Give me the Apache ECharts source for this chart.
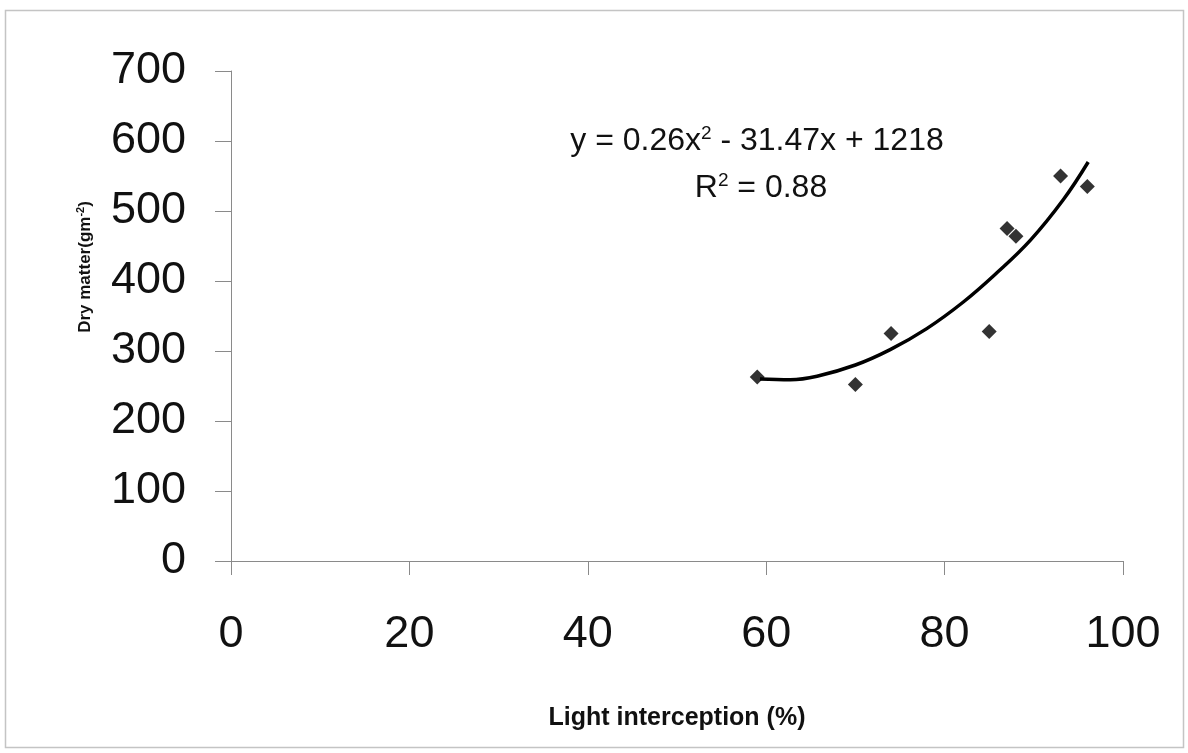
<!DOCTYPE html>
<html>
<head>
<meta charset="utf-8">
<script src="https://cdn.jsdelivr.net/npm/echarts@6/dist/echarts.min.js"></script>
<style>
  html, body { margin: 0; padding: 0; background: #fff; }
  #main { width: 1188px; height: 753px; }
</style>
</head>
<body>
<div id="main"></div>
<script>
var chartDom = document.getElementById('main');
var myChart = echarts.init(chartDom);
var option;

// observed points (light interception %, dry matter g m-2)
const lightX = [59, 70, 74, 85, 87, 88, 93, 96];
const dryY = [263, 252, 325, 328, 475, 464, 550, 535];

// polynomial trendline as drawn in the figure
const trendX = [59.3, 62.7, 65.7, 70, 73.9, 78, 82.1, 85.8, 89.6, 93.3, 96.1];
const trendY = [260, 259, 264, 280, 302, 332, 370, 411, 458, 516, 570];

const yTicks = [0, 100, 200, 300, 400, 500, 600, 700];
const xTicks = [0, 20, 40, 60, 80, 100];

const fontFamily = '"Liberation Sans", Arial, sans-serif';

option = {
  backgroundColor: '#fff',
  animation: false,
  grid: {
    left: 231,
    right: 65,
    top: 71,
    bottom: 192
  },
  xAxis: {
    type: 'value',
    min: xTicks[0],
    max: xTicks[xTicks.length - 1],
    interval: 20,
    name: 'Light interception (%)',
    nameLocation: 'middle',
    nameGap: 145,
    nameTextStyle: {
      fontFamily: fontFamily,
      fontWeight: 'bold',
      fontSize: 25,
      color: '#111'
    },
    axisLine: { lineStyle: { color: '#8a8a8a', width: 1 } },
    axisTick: { show: true, length: 14, lineStyle: { color: '#8a8a8a' } },
    axisLabel: {
      margin: 51,
      fontFamily: fontFamily,
      fontSize: 45,
      color: '#111'
    },
    splitLine: { show: false }
  },
  yAxis: {
    type: 'value',
    min: yTicks[0],
    max: yTicks[yTicks.length - 1],
    interval: 100,
    name: '{b|Dry matter(gm}{s|-2}{b|)}',
    nameLocation: 'middle',
    nameGap: 136,
    nameRotate: 90,
    nameTextStyle: {
      padding: [0, 0, 0, 98],
      rich: {
        b: { fontFamily: fontFamily, fontWeight: 'bold', fontSize: 17, color: '#111' },
        s: { fontFamily: fontFamily, fontWeight: 'bold', fontSize: 11, color: '#111', verticalAlign: 'top', padding: [0, 0, 9, 0] }
      }
    },
    axisLine: { show: true, lineStyle: { color: '#8a8a8a', width: 1 } },
    axisTick: { show: true, length: 16, lineStyle: { color: '#8a8a8a' } },
    axisLabel: {
      margin: 45,
      fontFamily: fontFamily,
      fontSize: 45,
      color: '#111'
    },
    splitLine: { show: false }
  },
  graphic: [
    {
      type: 'rect',
      left: 3,
      top: 8,
      shape: { width: 1178, height: 737 },
      style: { fill: 'none', stroke: '#c4c4c4', lineWidth: 1.5 },
      silent: true
    },
    {
      type: 'text',
      x: 757,
      y: 141,
      style: {
        text: '{a|y = 0.26x}{s|2}{a| - 31.47x + 1218}',
        align: 'center',
        verticalAlign: 'middle',
        rich: {
          a: { fontFamily: fontFamily, fontSize: 32, fill: '#111' },
          s: { fontFamily: fontFamily, fontSize: 19, fill: '#111', verticalAlign: 'top', padding: [0, 0, 14, 0] }
        }
      }
    },
    {
      type: 'text',
      x: 761,
      y: 188,
      style: {
        text: '{a|R}{s|2}{a| = 0.88}',
        align: 'center',
        verticalAlign: 'middle',
        rich: {
          a: { fontFamily: fontFamily, fontSize: 32, fill: '#111' },
          s: { fontFamily: fontFamily, fontSize: 19, fill: '#111', verticalAlign: 'top', padding: [0, 0, 14, 0] }
        }
      }
    }
  ],
  series: [
    {
      name: 'Trend',
      type: 'line',
      smooth: 0.4,
      showSymbol: false,
      lineStyle: { color: '#000', width: 3.5 },
      data: trendX.map(function (x, i) { return [x, trendY[i]]; }),
      z: 2
    },
    {
      name: 'Dry matter',
      type: 'scatter',
      symbol: 'diamond',
      symbolSize: 15,
      itemStyle: { color: '#000' },
      data: lightX.map(function (x, i) { return [x, dryY[i]]; }),
      z: 3
    }
  ]
};

option && myChart.setOption(option);
</script>
</body>
</html>
